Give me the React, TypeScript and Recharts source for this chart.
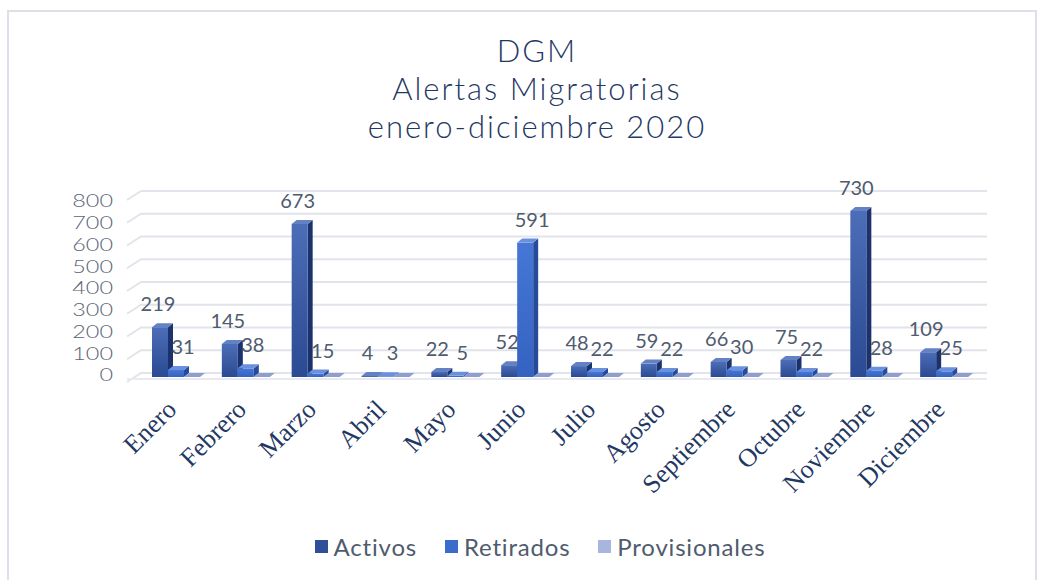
import { BarChart, Bar, XAxis, YAxis, CartesianGrid, LabelList } from "recharts";

const months = [
  "Enero", "Febrero", "Marzo", "Abril", "Mayo", "Junio",
  "Julio", "Agosto", "Septiembre", "Octubre", "Noviembre", "Diciembre",
];
const activos = [219, 145, 673, 4, 22, 52, 48, 59, 66, 75, 730, 109];
const retirados = [31, 38, 15, 3, 5, 591, 22, 22, 30, 22, 28, 25];
const provisionales = [0, 0, 0, 0, 0, 0, 0, 0, 0, 0, 0, 0];
const yTicks = [0, 100, 200, 300, 400, 500, 600, 700, 800];
const titleLines = ["DGM", "Alertas Migratorias", "enero-diciembre 2020"];

const series = [
  { key: "activos", label: "Activos", front: ["#4c6db7", "#2a4a93"], side: "#1c326c", top: "#6481c4", swatch: "#2f4f99", showLabel: true, labelDx: -2 },
  { key: "retirados", label: "Retirados", front: ["#4677d6", "#3462c0"], side: "#254b99", top: "#6a90de", swatch: "#3a6ccb", showLabel: true, labelDx: 7 },
  { key: "provisionales", label: "Provisionales", front: ["#b0bde4", "#9eacd8"], side: "#8494c6", top: "#8f9ecf", swatch: "#a8b5df", showLabel: false, labelDx: 0 },
];

const data = months.map((m, i) => ({
  month: m,
  activos: activos[i],
  retirados: retirados[i],
  provisionales: provisionales[i],
}));

const DX = 5;
const DY = 4;
const BASE_Y = 373;
const textGray = "#4f5b6e";
const navy = "#1f3864";

const Bar3D = (props: any) => {
  const { x, y, width: w, height, s } = props;
  const h = Math.max(0, height || 0);
  return (
    <g>
      <polygon
        points={`${x + w},${y + DY} ${x + w + DX},${y} ${x + w + DX},${y + h} ${x + w},${y + h + DY}`}
        fill={s.side}
      />
      {h > 0 && <rect x={x} y={y + DY} width={w} height={h} fill={`url(#grad-${s.key})`} />}
      <polygon
        points={`${x},${y + DY} ${x + DX},${y} ${x + w + DX},${y} ${x + w},${y + DY}`}
        fill={s.top}
      />
    </g>
  );
};

const GridLine = (props: any) => {
  const { x1, x2, y1, index } = props;
  const isFloor = Math.abs(y1 - BASE_Y) < 2;
  return (
    <g key={`g-${index}`}>
      <path d={`M${x1 - 14},${y1 + 9} L${x1},${y1} L${x2 + 8},${y1}`} fill="none" stroke="#e1e4ea" strokeWidth={2} />
      {isFloor && <line x1={x1 - 14} y1={y1 + 6} x2={x2 + 8} y2={y1 + 6} stroke="#e8eaef" strokeWidth={2} />}
    </g>
  );
};

const YTick = (props: any) => {
  const { x, y, payload } = props;
  const shift = 1 + (8 * (BASE_Y - y)) / 182;
  return (
    <g transform={`translate(${x}, ${y + shift}) scale(1.3, 1)`}>
      <text x={0} y={0} textAnchor="end" dominantBaseline="central" fill="#5b6577"
        fontFamily="Lato" fontWeight={300} fontSize={18}>
        {payload.value}
      </text>
    </g>
  );
};

const XTick = (props: any) => {
  const { x, payload } = props;
  return (
    <text x={x + 2} y={411} textAnchor="end" transform={`rotate(-45, ${x + 2}, 411)`}
      fill={navy} fontFamily="Liberation Serif" fontSize={26}>
      {payload.value}
    </text>
  );
};

const makeLabel = (s: any) => (p: any) => {
  const { x, y, width, value } = p;
  return (
    <text x={x + width / 2 + s.labelDx} y={y - 20} textAnchor="middle" dominantBaseline="central"
      fill={textGray} fontFamily="Lato" fontSize={20}>
      {value}
    </text>
  );
};

export default function App() {
  return (
    <div style={{ position: "absolute", left: 0, top: 0, width: 1048, height: 580, background: "#fff", overflow: "hidden" }}>
      <div style={{ position: "absolute", left: 7, top: 10, width: 1026, height: 600, borderTop: "2px solid #dde0e7", borderLeft: "2px solid #dde0e7", borderRight: "2px solid #dde0e7" }} />
      <div style={{ position: "absolute", left: 0, top: 31, width: 1074, textAlign: "center", fontFamily: "Lato", fontWeight: 300, fontSize: 31, letterSpacing: 2, lineHeight: "38px", color: navy }}>
        {titleLines.map((t) => (
          <div key={t}>{t}</div>
        ))}
      </div>
      <div style={{ position: "absolute", left: 0, top: 0 }}>
        <BarChart width={1048} height={580} data={data} barSize={16} barGap={0}
          margin={{ top: 191, right: 69, bottom: 177, left: 0 }}>
          <defs>
            {series.map((s) => (
              <linearGradient key={s.key} id={`grad-${s.key}`} x1="0" y1="0" x2="0" y2="1">
                <stop offset="0%" stopColor={s.front[0]} />
                <stop offset="100%" stopColor={s.front[1]} />
              </linearGradient>
            ))}
          </defs>
          <CartesianGrid vertical={false} horizontal={GridLine as any} />
          <XAxis dataKey="month" axisLine={false} tickLine={false} interval={0} height={30} tick={XTick} />
          <YAxis domain={[0, 800]} ticks={yTicks} interval={0} width={141} axisLine={false} tickLine={false}
            tickMargin={22} tick={YTick} />
          {series.map((s) => (
            <Bar key={s.key} dataKey={s.key} name={s.label} isAnimationActive={false}
              shape={(p: any) => <Bar3D {...p} s={s} />}>
              {s.showLabel && <LabelList dataKey={s.key} content={makeLabel(s)} />}
            </Bar>
          ))}
        </BarChart>
      </div>
      <div style={{ position: "absolute", left: 0, top: 532, width: 1080, display: "flex", justifyContent: "center", gap: 28, fontFamily: "Lato", fontSize: 24, color: textGray }}>
        {series.map((s) => (
          <div key={s.key} style={{ display: "flex", alignItems: "center" }}>
            <span style={{ width: 13, height: 13, background: s.swatch, marginRight: 6, display: "inline-block" }} />
            <span style={{ letterSpacing: 0.8 }}>{s.label}</span>
          </div>
        ))}
      </div>
    </div>
  );
}
